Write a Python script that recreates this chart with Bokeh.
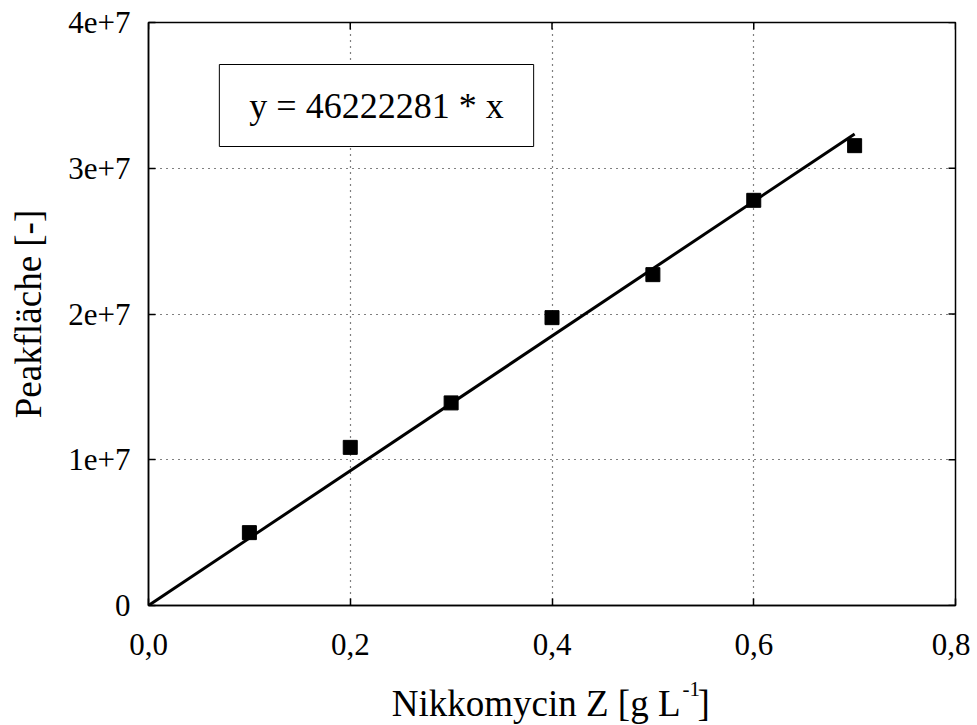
import math
from bokeh.plotting import figure
from bokeh.layouts import column
from bokeh.models import Range1d, FixedTicker, Label, ColumnDataSource
from bokeh.embed import file_html
from bokeh.resources import INLINE

# ---- data ----
conc = [0.1, 0.2, 0.3, 0.4, 0.5, 0.6, 0.7]
area = [5.0e6, 1.085e7, 1.39e7, 1.975e7, 2.27e7, 2.78e7, 3.155e7]
slope = 46222281
fit_x = [0.0, 0.7]
fit_y = [slope * v for v in fit_x]
x_ticks = [0.0, 0.2, 0.4, 0.6, 0.8]
x_tick_labels = ["0,0", "0,2", "0,4", "0,6", "0,8"]
y_ticks = [0, 1e7, 2e7, 3e7, 4e7]
y_tick_labels = ["0", "1e+7", "2e+7", "3e+7", "4e+7"]
equation = "y = 46222281 * x"
x_label_main = "Nikkomycin Z [g L"
x_label_sup = "-1"
x_label_end = "]"
y_label = "Peakfläche [-]"

FONT = "Liberation Serif"
X_MIN, X_MAX = 0.0, 0.8
Y_MIN, Y_MAX = 0.0, 4e7
W = 970

p = figure(width=W, height=665, output_backend="svg", toolbar_location=None,
           x_range=Range1d(X_MIN, X_MAX), y_range=Range1d(Y_MIN, Y_MAX),
           min_border_left=148, min_border_right=15, min_border_top=22, min_border_bottom=60)
p.background_fill_color = "white"
p.border_fill_color = "white"
p.outline_line_color = "black"
p.outline_line_width = 1.5

def style_axis(ax, ticks, labels):
    ax.ticker = FixedTicker(ticks=ticks)
    ax.major_tick_in = 7
    ax.major_tick_out = 0
    ax.minor_tick_line_color = None
    ax.axis_line_color = "black"
    ax.axis_line_width = 1.5
    ax.major_tick_line_color = "black"
    ax.major_tick_line_width = 1.5
    ax.major_label_overrides = {t: l for t, l in zip(ticks, labels)}
    ax.major_label_text_font = FONT
    ax.major_label_text_font_size = "31px"
    ax.major_label_text_color = "black"

style_axis(p.xaxis[0], x_ticks, x_tick_labels)
style_axis(p.yaxis[0], y_ticks, y_tick_labels)
p.xaxis[0].major_label_standoff = 28
p.yaxis[0].major_label_standoff = 18

p.yaxis[0].axis_label = y_label
p.yaxis[0].axis_label_text_font = FONT
p.yaxis[0].axis_label_text_font_size = "37px"
p.yaxis[0].axis_label_text_font_style = "normal"
p.yaxis[0].axis_label_text_color = "black"
p.yaxis[0].axis_label_standoff = 16

for g, t in ((p.xgrid[0], x_ticks), (p.ygrid[0], y_ticks)):
    g.ticker = FixedTicker(ticks=t)
    g.grid_line_color = "black"
    g.grid_line_dash = "1 5"
    g.grid_line_width = 1.2

# inward ticks on the top and right frame edges (outer half of each dash is clipped)
p.scatter(x_ticks, [Y_MAX] * len(x_ticks), marker="dash", angle=math.pi / 2, size=14,
          line_color="black", line_width=1.5)
p.scatter([X_MAX] * len(y_ticks), y_ticks, marker="dash", angle=0, size=14,
          line_color="black", line_width=1.5)

p.line(fit_x, fit_y, line_color="black", line_width=3)
src = ColumnDataSource(dict(x=conc, y=area))
p.scatter("x", "y", source=src, marker="square", size=14, fill_color="black", line_color="black")

p.add_layout(Label(x=228, y=500, x_units="screen", y_units="screen", text=equation,
                   text_font=FONT, text_font_size="36px", text_color="black",
                   text_align="center", text_baseline="middle",
                   border_line_color="black", border_line_width=1,
                   background_fill_color="white",
                   padding=dict(left=30, right=30, top=21, bottom=21)))

# ---- x-axis title strip (with superscript) ----
p2 = figure(width=W, height=60, output_backend="svg", toolbar_location=None,
            x_range=p.x_range, y_range=Range1d(0, 1),
            x_axis_type=None, y_axis_type=None,
            min_border_left=148, min_border_right=15, min_border_top=0, min_border_bottom=0)
p2.outline_line_color = None
p2.grid.visible = False
p2.background_fill_color = "white"
p2.border_fill_color = "white"

p2.add_layout(Label(x=532, y=22, x_units="screen", y_units="screen", text=x_label_main,
                    text_font=FONT, text_font_size="37px", text_color="black",
                    text_align="right", text_baseline="alphabetic"))
p2.add_layout(Label(x=534, y=37, x_units="screen", y_units="screen", text=x_label_sup,
                    text_font=FONT, text_font_size="21px", text_color="black",
                    text_align="left", text_baseline="alphabetic"))
p2.add_layout(Label(x=549, y=22, x_units="screen", y_units="screen", text=x_label_end,
                    text_font=FONT, text_font_size="37px", text_color="black",
                    text_align="left", text_baseline="alphabetic"))

layout = column(p, p2, spacing=0)
open("out.html", "w").write(file_html(layout, INLINE))
